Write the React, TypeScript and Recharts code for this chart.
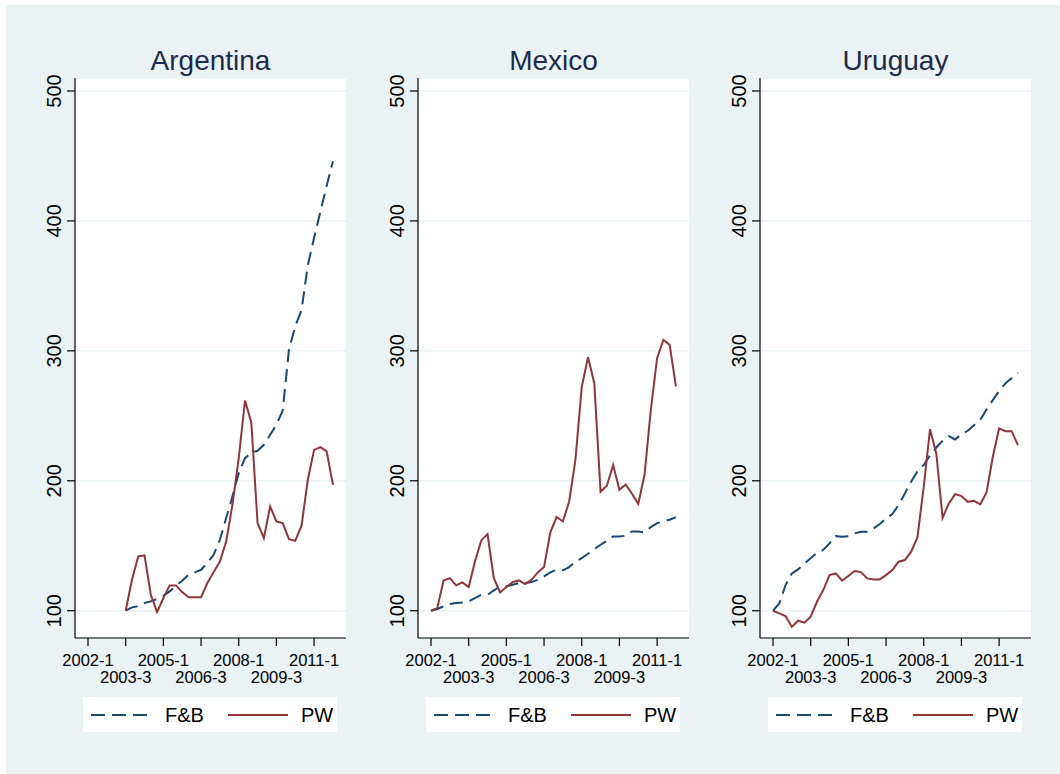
import { LineChart, Line, XAxis, YAxis, CartesianGrid } from 'recharts';

// quarterly index, 2002-1 = 0 ... 2011-4 = 39
const tickQuarters = [0, 6, 12, 18, 24, 30, 36];
const tickLabels = ['2002-1', '2003-3', '2005-1', '2006-3', '2008-1', '2009-3', '2011-1'];
const yTicks = [100, 200, 300, 400, 500];

const argentinaFB = [
  null, null, null, null, null, null,
  100, 102.6, 103.4, 105.9, 107.2, 109, 111.5, 114.9, 119.2, 123.1,
  127.7, 129.5, 131.5, 136.7, 143, 154.6, 171.3, 187.9, 205.9, 217.4,
  221.8, 223.1, 227.7, 235.4, 243.1, 254, 301, 319, 331.5, 366,
  387, 407, 427, 446,
];
const argentinaPW = [
  null, null, null, null, null, null,
  100, 123.8, 141.8, 142.6, 112.3, 99, 109.7, 119.5, 119.5, 114.3,
  110.3, 110.3, 110.3, 121.3, 129.7, 137.9, 153.3, 181.5, 217.4, 261.8,
  244.9, 167.4, 155.9, 180.3, 168.7, 167.4, 155.1, 153.8, 165.4, 200.8,
  223.8, 225.9, 222.6, 196.9,
];
const mexicoFB = [
  100, 101.3, 103.3, 105.1, 105.9, 106.4, 107.2, 109.7, 112.3, 112.3,
  115.6, 118.7, 118.7, 120, 121.3, 121.3, 122, 123.8, 126.4, 129.5,
  131.5, 131.1, 133.6, 137.9, 140.5, 143.8, 147.4, 150.8, 153.8, 157.2,
  157.2, 157.7, 161, 161, 160.3, 164.4, 167.4, 168.7, 170, 172,
];
const mexicoPW = [
  100, 102, 123.3, 125.1, 119.5, 121.8, 118.2, 137.9, 154.1, 159,
  125.1, 114.1, 118.2, 122, 123.3, 120.5, 123.8, 129.5, 133.6, 160.3,
  172.1, 168.7, 184.1, 216.2, 272.1, 295.1, 275.1, 191.5, 196.2, 212.1,
  193.1, 197.2, 190, 182.3, 204.6, 254.6, 294.4, 308.5, 304.6, 272.6,
];
const uruguayFB = [
  100, 105.6, 119.7, 128.7, 131.8, 136.4, 140.3, 144.6, 146.7, 151.8,
  157.4, 156.9, 157.4, 159.5, 160.8, 160.8, 163.3, 166.7, 171, 174.4,
  181.3, 190.3, 199.2, 207.4, 212.1, 219.7, 225.6, 230.8, 234.4, 231.8,
  235.9, 238.5, 242.8, 246.7, 254.9, 262.1, 269, 275, 279, 283,
];
const uruguayPW = [
  100, 97.9, 95.9, 87.7, 92.3, 90.8, 95.4, 106.9, 115.9, 127.4,
  128.7, 123.1, 126.7, 130.5, 129.7, 124.9, 124.1, 124.1, 127.4, 131.3,
  137.7, 139, 145.4, 156.4, 195.4, 239.7, 221, 171.5, 182.6, 189.7,
  188.2, 183.8, 184.6, 181.8, 191, 218.5, 240.3, 238.2, 238.2, 227.4,
];

const panels = [
  { title: 'Argentina', fb: argentinaFB, pw: argentinaPW, left: 75 },
  { title: 'Mexico', fb: mexicoFB, pw: mexicoPW, left: 418 },
  { title: 'Uruguay', fb: uruguayFB, pw: uruguayPW, left: 760 },
];

const FONT = '"Liberation Sans", Arial, sans-serif';
const BG = '#EAF2F3';
const NAVY = '#1a476f';
const MAROON = '#90353b';

const PLOT_W = 271;
const PLOT_TOP = 78;
const PLOT_BOTTOM = 638;
const YAXIS_W = 60;

const YTick = (props: any) => {
  const { x, y, payload } = props;
  return (
    <text
      transform={`translate(${x - 6},${y}) rotate(-90)`}
      textAnchor="middle"
      fontSize={20}
      fontFamily={FONT}
      fill="#000"
    >
      {payload.value}
    </text>
  );
};

const XTick = (props: any) => {
  const { x, y, payload, index } = props;
  const i = tickQuarters.indexOf(payload.value);
  const row = (i >= 0 ? i : index) % 2;
  return (
    <text
      x={x}
      y={y + (row === 0 ? 20 : 36.5)}
      textAnchor="middle"
      fontSize={16.5}
      fontFamily={FONT}
      fill="#000"
    >
      {tickLabels[i]}
    </text>
  );
};

function Panel({ title, fb, pw, left }: { title: string; fb: (number | null)[]; pw: (number | null)[]; left: number }) {
  const rows = fb.map((v, i) => ({ q: i, fb: v, pw: pw[i] }));
  const chartW = YAXIS_W + PLOT_W + 4;
  return (
    <>
      <div
        style={{
          position: 'absolute',
          left,
          top: 47,
          width: PLOT_W,
          textAlign: 'center',
          fontFamily: FONT,
          fontSize: 28,
          lineHeight: '28px',
          color: '#1c2b4c',
        }}
      >
        {title}
      </div>
      <div style={{ position: 'absolute', left: left - YAXIS_W, top: 0 }}>
        <LineChart
          width={chartW}
          height={700}
          data={rows}
          margin={{ top: PLOT_TOP, right: 4, left: 0, bottom: 0 }}
        >
          <CartesianGrid vertical={false} stroke={BG} strokeWidth={1.5} fill="#ffffff" />
          <XAxis
            dataKey="q"
            type="number"
            domain={[-2.07, 41.08]}
            ticks={tickQuarters}
            interval={0}
            allowDataOverflow
            height={700 - PLOT_BOTTOM}
            tickSize={8}
            tickMargin={0}
            stroke="#000"
            tickLine={{ stroke: '#000', strokeWidth: 1.2 }}
            axisLine={{ stroke: '#000', strokeWidth: 1.2 }}
            tick={<XTick />}
          />
          <YAxis
            type="number"
            domain={[79, 510]}
            ticks={yTicks}
            interval={0}
            allowDataOverflow
            width={YAXIS_W}
            tickSize={8}
            tickMargin={0}
            stroke="#000"
            tickLine={{ stroke: '#000', strokeWidth: 1.2 }}
            axisLine={{ stroke: '#000', strokeWidth: 1.2 }}
            tick={<YTick />}
          />
          <Line
            type="linear"
            dataKey="fb"
            stroke={NAVY}
            strokeWidth={2}
            strokeDasharray="13 7"
            dot={false}
            activeDot={false}
            isAnimationActive={false}
          />
          <Line
            type="linear"
            dataKey="pw"
            stroke={MAROON}
            strokeWidth={2}
            dot={false}
            activeDot={false}
            isAnimationActive={false}
          />
        </LineChart>
      </div>
      <div
        style={{
          position: 'absolute',
          left: left + 8,
          top: 697,
          width: 254,
          height: 35,
          background: '#ffffff',
        }}
      >
        <svg width={254} height={35}>
          <line x1={8} y1={18} x2={68} y2={18} stroke={NAVY} strokeWidth={2} strokeDasharray="14 7" />
          <text x={82} y={25} fontSize={20} fontFamily={FONT} fill="#000">F&amp;B</text>
          <line x1={145} y1={18} x2={205} y2={18} stroke={MAROON} strokeWidth={2} />
          <text x={218} y={25} fontSize={20} fontFamily={FONT} fill="#000">PW</text>
        </svg>
      </div>
    </>
  );
}

export default function App() {
  return (
    <div style={{ position: 'absolute', left: 0, top: 0, width: 1060, height: 774, background: '#ffffff' }}>
      <div style={{ position: 'absolute', left: 6, top: 5, width: 1054, height: 769, background: BG }} />
      {panels.map((p) => (
        <Panel key={p.title} title={p.title} fb={p.fb} pw={p.pw} left={p.left} />
      ))}
    </div>
  );
}
